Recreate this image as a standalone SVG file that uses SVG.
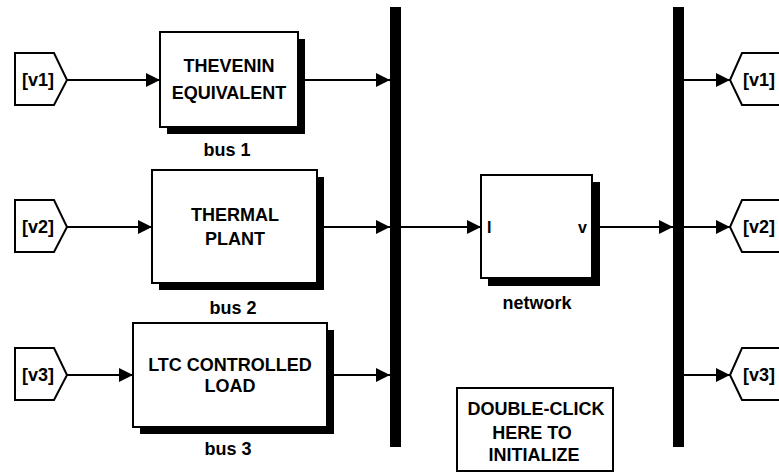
<svg xmlns="http://www.w3.org/2000/svg" width="779" height="472" viewBox="0 0 779 472">
  <style>
    .blk { fill: #fff; stroke: #000; stroke-width: 2; }
    .shadow { fill: #000; }
    .tag { fill: #fff; stroke: #000; stroke-width: 2; stroke-linejoin: miter; }
    .bus { fill: #000; }
    .wire { fill: none; stroke: #000; stroke-width: 2; marker-end: url(#arrow); }
    text { font-family: "Liberation Sans", Arial, Helvetica, sans-serif; font-size: 18px; font-weight: bold; fill: #000; }
    .mid { text-anchor: middle; }
    .port { font-size: 16px; }
  </style>
  <defs>
    <marker id="arrow" markerUnits="userSpaceOnUse" markerWidth="14" markerHeight="14" refX="14" refY="7" orient="auto">
      <path d="M0,0 L14,7 L0,14 z" fill="#000"/>
    </marker>
  </defs>
  <rect width="779" height="472" fill="#fff"/>

  <!-- From tags -->
  <g id="from-v1">
    <path class="tag" d="M15,53 H54 L67,80 L54,105 H15 Z"/>
    <text x="22" y="86">[v1]</text>
  </g>
  <g id="from-v2">
    <path class="tag" d="M15,200 H54 L67,227 L54,252 H15 Z"/>
    <text x="22" y="233">[v2]</text>
  </g>
  <g id="from-v3">
    <path class="tag" d="M15,348 H54 L67,375 L54,400 H15 Z"/>
    <text x="22" y="381">[v3]</text>
  </g>

  <!-- Bus subsystems -->
  <g id="bus1">
    <rect class="shadow" x="167" y="39" width="138" height="95"/>
    <rect class="blk" x="160" y="32" width="138" height="95"/>
    <text class="mid" x="229" y="72">THEVENIN</text>
    <text class="mid" x="229" y="99">EQUIVALENT</text>
    <text class="mid" x="227" y="156">bus 1</text>
  </g>
  <g id="bus2">
    <rect class="shadow" x="159" y="177" width="165" height="113"/>
    <rect class="blk" x="152" y="170" width="165" height="113"/>
    <text class="mid" x="235" y="221">THERMAL</text>
    <text class="mid" x="235" y="245">PLANT</text>
    <text class="mid" x="233" y="314">bus 2</text>
  </g>
  <g id="bus3">
    <rect class="shadow" x="140" y="330" width="194" height="104"/>
    <rect class="blk" x="133" y="323" width="194" height="104"/>
    <text class="mid" x="230" y="371">LTC CONTROLLED</text>
    <text class="mid" x="230" y="392">LOAD</text>
    <text class="mid" x="228" y="455">bus 3</text>
  </g>

  <!-- Mux / demux bars -->
  <g id="mux">
    <rect class="bus" x="390" y="7" width="11" height="440"/>
  </g>
  <g id="demux">
    <rect class="bus" x="673" y="7" width="11" height="440"/>
  </g>

  <!-- Network subsystem -->
  <g id="network">
    <rect class="shadow" x="488" y="182" width="112" height="104"/>
    <rect class="blk" x="481" y="175" width="111" height="103"/>
    <text class="port" x="487" y="233">I</text>
    <text class="port" x="587" y="233" text-anchor="end">v</text>
    <text class="mid" x="537" y="309">network</text>
  </g>

  <!-- Initialization block -->
  <g id="init">
    <rect class="blk" x="457" y="388" width="156" height="83"/>
    <text class="mid" x="536" y="415">DOUBLE-CLICK</text>
    <text class="mid" x="532" y="439">HERE TO</text>
    <text class="mid" x="534" y="461">INITIALIZE</text>
  </g>

  <!-- Goto tags -->
  <g id="goto-v1">
    <path class="tag" d="M790,53 H742 L730,80 L742,105 H790"/>
    <text x="743" y="86">[v1]</text>
  </g>
  <g id="goto-v2">
    <path class="tag" d="M790,200 H742 L730,227 L742,252 H790"/>
    <text x="743" y="233">[v2]</text>
  </g>
  <g id="goto-v3">
    <path class="tag" d="M790,348 H742 L730,375 L742,400 H790"/>
    <text x="743" y="381">[v3]</text>
  </g>

  <!-- Signal lines -->
  <g id="connectors">
    <line class="wire" x1="67" y1="80" x2="160" y2="80"/>
    <line class="wire" x1="67" y1="227" x2="152" y2="227"/>
    <line class="wire" x1="67" y1="375" x2="133" y2="375"/>
    <line class="wire" x1="298" y1="80" x2="390" y2="80"/>
    <line class="wire" x1="317" y1="227" x2="390" y2="227"/>
    <line class="wire" x1="327" y1="375" x2="390" y2="375"/>
    <line class="wire" x1="401" y1="227" x2="481" y2="227"/>
    <line class="wire" x1="592" y1="227" x2="673" y2="227"/>
    <line class="wire" x1="684" y1="80" x2="730" y2="80"/>
    <line class="wire" x1="684" y1="227" x2="730" y2="227"/>
    <line class="wire" x1="684" y1="375" x2="730" y2="375"/>
  </g>
</svg>
